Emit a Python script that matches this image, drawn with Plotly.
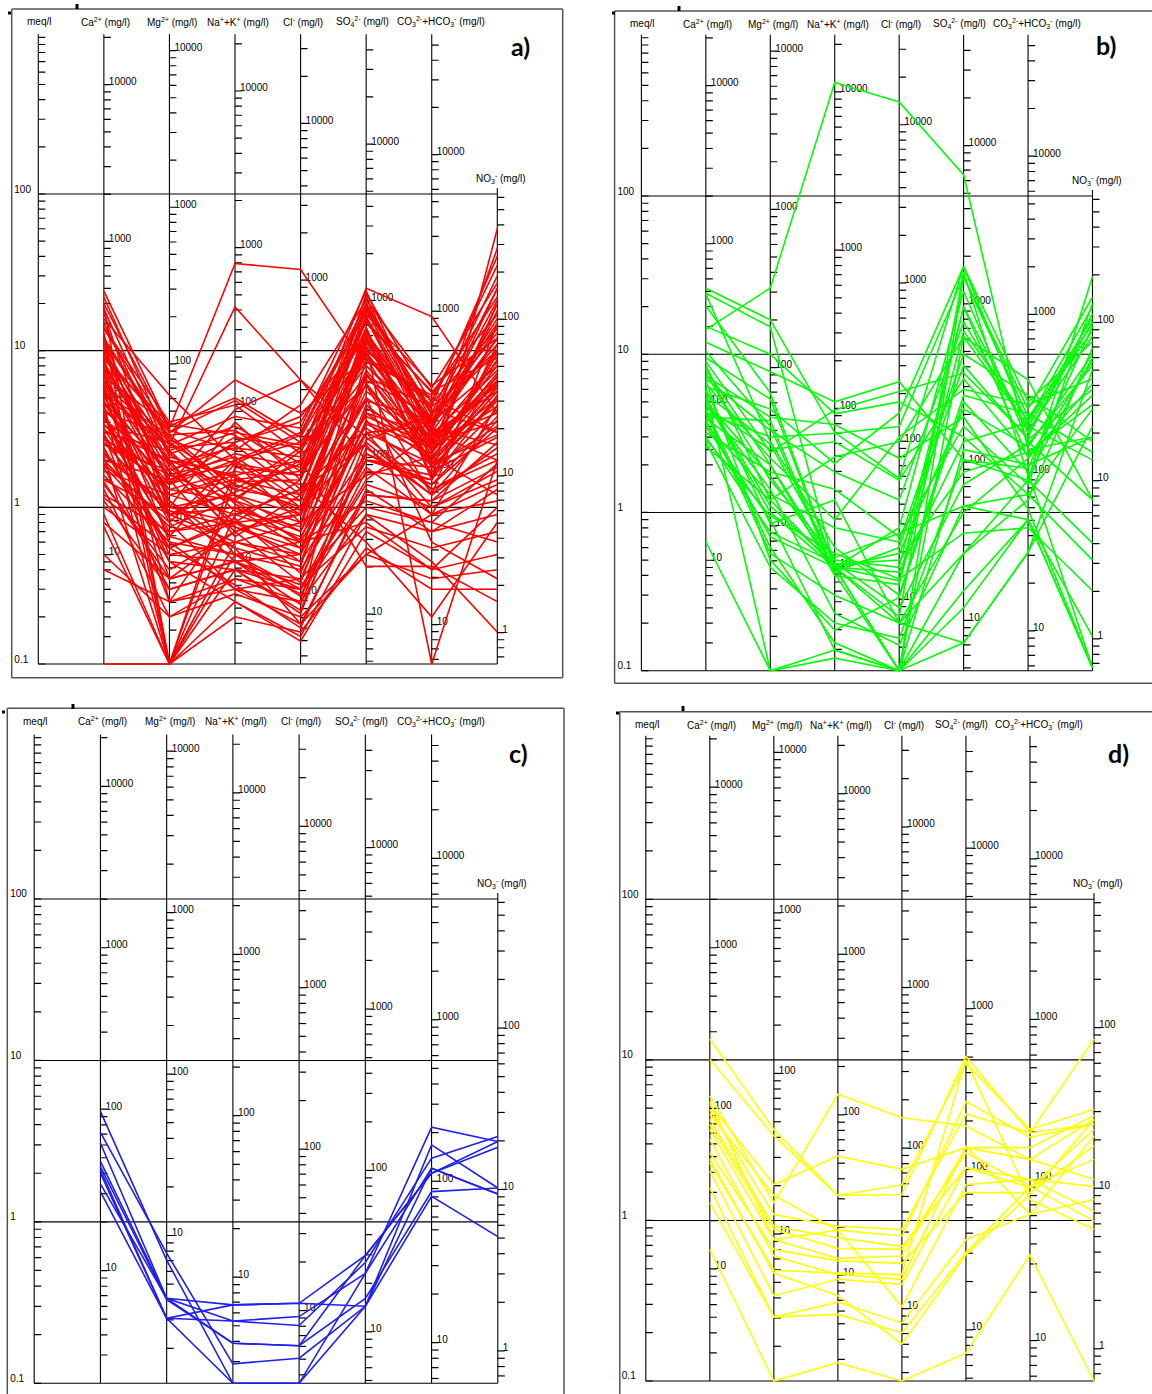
import plotly.graph_objects as go

FIG_W, FIG_H = 1152, 1394

# ---------------- axis / category definitions ----------------
CATEGORIES = ["Ca", "Mg", "Na+K", "Cl", "SO4", "CO3+HCO3", "NO3"]
AXIS_TITLES = ["meq/l", "Ca<sup>2+</sup> (mg/l)", "Mg<sup>2+</sup> (mg/l)",
               "Na<sup>+</sup>+K<sup>+</sup> (mg/l)", "Cl<sup>-</sup> (mg/l)",
               "SO<sub>4</sub><sup>2-</sup> (mg/l)",
               "CO<sub>3</sub><sup>2-</sup>+HCO<sub>3</sub><sup>-</sup> (mg/l)"]
NO3_TITLE = "NO<sub>3</sub><sup>-</sup> (mg/l)"
# mg/l per plotted meq/l unit for each ion axis (Ca, Mg, Na+K, Cl, SO4, CO3+HCO3, NO3)
EQ_WEIGHTS = [20.04, 12.15, 22.0, 35.45, 48.03, 56.0, 6.3]
ION_TICK_LABELS = [1, 10, 100, 1000, 10000]
MEQ_TICK_LABELS = [100, 10, 1, 0.1]
PANEL_LETTERS = ["a)", "b)", "c)", "d)"]

# ---------------- data: plotted meq/l values, rows = samples ----------------
# columns: Ca, Mg, Na+K, Cl, SO4, CO3+HCO3, NO3
SAMPLES_A = [
    [24.0, 3.2, 36.0, 33.0, 8.0, 3.0, 12.0],
    [22.0, 2.5, 19.0, 6.5, 2.0, 1.8, 5.0],
    [19.0, 0.1, 1.5, 1.2, 16.0, 2.5, 20.0],
    [16.0, 5.2, 2.0, 3.0, 20.0, 4.0, 30.0],
    [14.0, 3.5, 4.5, 2.2, 25.0, 16.5, 4.0],
    [13.0, 0.1, 0.6, 0.5, 12.0, 3.5, 8.0],
    [12.0, 2.8, 1.2, 0.9, 14.0, 1.5, 60.0],
    [11.0, 1.8, 0.8, 1.5, 18.0, 3.2, 2.5],
    [10.0, 2.2, 3.0, 2.5, 6.0, 1.2, 15.0],
    [9.5, 3.0, 6.5, 4.0, 9.0, 5.0, 3.0],
    [9.0, 0.25, 1.0, 0.7, 4.0, 2.0, 10.0],
    [8.5, 1.5, 2.2, 1.8, 22.0, 2.8, 6.0],
    [8.0, 0.1, 0.4, 0.35, 3.0, 1.0, 1.5],
    [7.5, 2.6, 1.4, 1.0, 10.0, 4.5, 40.0],
    [7.0, 1.2, 0.9, 1.3, 2.5, 0.9, 4.5],
    [6.8, 3.3, 5.0, 2.8, 15.0, 5.5, 9.0],
    [6.5, 0.6, 0.5, 0.3, 1.5, 3.0, 2.0],
    [6.0, 2.0, 1.6, 2.0, 7.0, 2.2, 20.0],
    [5.8, 1.0, 3.5, 1.5, 12.0, 1.6, 7.0],
    [5.5, 0.35, 0.7, 0.9, 5.0, 2.6, 3.5],
    [5.2, 2.4, 2.6, 3.5, 17.0, 6.0, 12.0],
    [5.0, 1.6, 1.1, 0.6, 0.8, 0.4, 1.0],
    [4.8, 0.8, 0.3, 0.25, 9.0, 1.9, 5.5],
    [4.5, 0.1, 1.8, 1.6, 6.5, 3.8, 25.0],
    [4.3, 1.4, 4.2, 6.5, 2.8, 1.3, 2.2],
    [4.0, 2.9, 1.3, 1.1, 11.0, 0.1, 2.0],
    [3.8, 0.5, 0.45, 0.5, 3.5, 2.4, 8.0],
    [3.6, 1.9, 2.4, 2.1, 8.0, 3.4, 14.0],
    [3.4, 1.1, 0.55, 0.18, 1.2, 1.1, 1.8],
    [3.2, 0.7, 0.8, 0.45, 4.5, 2.1, 6.5],
    [3.0, 2.3, 3.3, 1.9, 19.0, 4.2, 3.0],
    [2.9, 0.25, 0.35, 0.3, 2.0, 1.5, 11.0],
    [2.8, 1.3, 1.7, 1.4, 0.6, 0.2, 0.8],
    [2.6, 0.9, 0.6, 0.8, 5.5, 2.7, 4.0],
    [2.5, 1.7, 2.8, 2.4, 13.0, 3.6, 16.0],
    [2.4, 0.45, 0.25, 0.15, 0.9, 0.45, 0.16],
    [2.2, 1.0, 1.2, 0.7, 7.5, 2.3, 5.0],
    [2.1, 0.1, 0.9, 1.3, 3.2, 1.7, 2.8],
    [2.0, 1.5, 0.5, 0.4, 1.8, 0.9, 1.4],
    [1.9, 0.8, 2.0, 2.6, 10.0, 4.8, 35.0],
    [1.8, 0.3, 0.4, 0.22, 2.2, 1.4, 3.2],
    [1.7, 1.2, 1.5, 1.7, 6.0, 2.0, 9.5],
    [1.6, 0.6, 0.3, 0.35, 1.0, 0.8, 0.6],
    [1.5, 0.9, 1.0, 0.55, 4.0, 2.9, 7.5],
    [1.4, 0.4, 0.7, 1.0, 2.6, 1.2, 2.4],
    [1.3, 0.2, 0.28, 0.2, 0.5, 0.9, 1.1],
    [1.2, 0.7, 0.9, 0.65, 3.0, 3.3, 12.0],
    [1.1, 0.3, 0.4, 0.3, 1.4, 1.0, 1.7],
    [1.0, 0.5, 0.6, 0.45, 2.0, 1.6, 4.2],
    [0.9, 0.1, 0.25, 0.14, 0.7, 0.4, 0.5],
    [0.8, 0.35, 0.45, 0.28, 1.2, 1.1, 2.6],
    [0.5, 0.2, 0.35, 0.25, 0.9, 0.7, 0.9],
    [0.4, 0.25, 0.3, 0.18, 0.5, 0.35, 0.4],
    [0.1, 0.1, 0.5, 0.6, 3.0, 1.9, 6.0],
    [10.5, 1.4, 2.0, 1.0, 3.8, 2.5, 18.0],
    [7.8, 1.9, 0.75, 0.55, 2.2, 1.4, 3.8],
    [6.2, 2.5, 3.8, 3.2, 24.0, 3.0, 5.5],
    [4.6, 1.3, 1.1, 2.3, 8.5, 5.2, 22.0],
    [3.9, 0.65, 1.9, 0.8, 1.6, 2.1, 1.2],
    [3.1, 2.0, 0.65, 1.2, 5.0, 0.6, 0.35],
    [2.7, 1.6, 2.1, 1.1, 9.5, 2.6, 6.8],
    [2.3, 0.55, 0.85, 0.38, 3.6, 1.3, 2.0],
    [12.5, 0.9, 1.25, 1.9, 14.0, 1.8, 3.3],
    [9.8, 1.1, 0.45, 0.24, 2.7, 3.9, 13.0],
    [8.8, 3.4, 2.9, 1.3, 11.5, 2.3, 7.2],
    [5.6, 0.9, 1.45, 1.5, 16.5, 3.1, 45.0],
    [15.0, 2.1, 1.55, 0.95, 6.8, 4.4, 10.0],
    [17.5, 1.0, 0.8, 0.6, 1.1, 0.8, 1.9],
    [20.0, 3.1, 2.3, 4.5, 21.0, 5.8, 27.0],
    [2.0, 0.75, 1.15, 2.0, 0.42, 0.42, 0.25],
    [11.5, 2.7, 1.9, 1.6, 20.0, 3.6, 11.0],
    [9.2, 2.0, 1.3, 2.4, 16.0, 2.8, 8.5],
    [8.2, 1.7, 2.5, 1.2, 23.0, 4.6, 14.0],
    [7.2, 2.3, 0.95, 0.75, 13.5, 2.0, 5.8],
    [6.6, 1.5, 1.9, 2.9, 18.5, 3.9, 9.8],
    [5.9, 0.85, 0.55, 0.42, 7.2, 1.8, 4.8],
    [5.3, 2.9, 3.1, 1.7, 15.5, 5.4, 17.0],
    [4.7, 1.7, 0.7, 0.33, 4.3, 2.5, 6.2],
    [4.1, 0.45, 0.4, 0.21, 2.4, 1.2, 3.6],
    [3.7, 1.2, 1.6, 0.9, 10.5, 3.1, 25.0],
    [3.3, 2.6, 1.05, 0.62, 6.2, 1.9, 2.9],
    [2.95, 0.55, 0.32, 0.17, 1.3, 0.7, 1.3],
    [2.55, 1.4, 2.6, 3.8, 12.0, 2.4, 4.4],
    [2.15, 0.95, 0.75, 0.5, 3.4, 2.2, 8.8],
    [1.85, 0.65, 0.5, 0.27, 1.7, 1.5, 5.2],
    [1.45, 0.35, 0.45, 0.32, 0.75, 0.55, 0.7],
    [1.15, 0.55, 0.8, 0.9, 4.8, 3.6, 15.0],
    [0.75, 0.1, 0.2, 0.16, 0.55, 0.3, 0.3],
    [13.8, 3.0, 4.8, 2.6, 9.8, 2.7, 6.4],
    [18.5, 2.2, 1.1, 0.8, 12.5, 3.4, 21.0],
]

SAMPLES_B = [
    [14.3, 26.2, 521.0, 393.0, 136.0, 2.5, 3.0],
    [26.1, 16.5, 3.2, 1.64, 35.8, 3.5, 15.7],
    [24.3, 14.9, 0.45, 0.1, 31.0, 4.5, 23.0],
    [20.2, 5.7, 0.45, 0.37, 20.0, 2.2, 9.0],
    [11.9, 7.76, 5.0, 6.7, 2.15, 1.6, 31.0],
    [10.4, 3.5, 0.41, 0.1, 12.9, 6.9, 1.2],
    [8.98, 2.4, 4.45, 5.8, 7.6, 3.0, 18.0],
    [7.59, 1.6, 0.52, 0.74, 1.1, 0.9, 0.104],
    [6.24, 4.5, 2.04, 4.26, 35.8, 5.0, 12.0],
    [5.14, 1.0, 0.45, 0.2, 0.55, 1.6, 0.64],
    [4.24, 3.0, 3.17, 3.49, 30.9, 4.0, 14.0],
    [3.49, 0.9, 0.135, 0.1, 0.15, 0.56, 8.0],
    [2.61, 1.2, 2.25, 2.8, 12.9, 3.5, 2.15],
    [0.653, 0.1, 0.135, 0.1, 0.32, 0.9, 0.164],
    [8.0, 2.0, 0.45, 0.55, 4.5, 2.6, 10.0],
    [6.8, 0.5, 0.18, 0.29, 5.0, 1.8, 0.104],
    [5.6, 2.7, 0.5, 0.45, 20.0, 3.2, 16.0],
    [4.8, 1.4, 0.23, 0.145, 1.1, 1.3, 4.5],
    [4.0, 3.8, 0.42, 0.6, 8.5, 2.9, 6.0],
    [3.8, 0.7, 0.45, 0.1, 2.5, 2.0, 3.0],
    [3.2, 1.8, 1.4, 0.7, 3.5, 1.5, 21.0],
    [2.9, 0.95, 0.55, 0.38, 0.74, 0.8, 0.32],
    [9.5, 5.2, 0.45, 0.22, 33.0, 1.7, 9.5],
    [6.5, 2.2, 0.9, 3.0, 6.0, 4.8, 7.0],
    [5.3, 1.1, 0.47, 0.5, 1.8, 2.4, 4.8],
    [4.5, 0.6, 0.15, 0.1, 0.55, 1.2, 11.0],
    [7.0, 3.3, 1.8, 1.2, 16.0, 3.3, 13.0],
    [3.6, 1.3, 0.8, 0.65, 10.0, 5.5, 2.8],
    [2.8, 0.45, 0.2, 0.16, 2.15, 1.9, 15.0],
    [5.9, 0.1, 0.12, 0.1, 0.25, 0.9, 0.104],
    [8.5, 1.2, 0.45, 0.42, 2.8, 3.7, 17.0],
    [4.6, 2.5, 2.8, 1.6, 7.0, 2.3, 5.5],
    [3.0, 0.75, 0.48, 0.25, 1.5, 2.7, 8.5],
    [15.0, 10.0, 4.2, 5.0, 3.0, 1.3, 0.5],
    [24.0, 2.8, 0.6, 0.3, 5.5, 4.2, 2.4],
    [5.0, 1.7, 0.45, 0.8, 25.0, 2.8, 1.2],
    [6.0, 0.85, 1.2, 0.2, 0.15, 0.56, 3.5],
    [3.9, 2.0, 0.4, 0.35, 14.0, 3.8, 20.0],
    [7.3, 4.0, 3.6, 2.2, 4.0, 1.05, 0.104],
    [4.3, 0.55, 0.3, 0.2, 1.0, 2.2, 6.5],
]

SAMPLES_C = [
    [4.83, 0.58, 0.10, 0.10, 0.48, 3.86, 3.15],
    [3.58, 0.64, 0.132, 0.143, 0.30, 2.15, 1.49],
    [3.07, 0.336, 0.306, 0.313, 0.30, 3.0, 1.62],
    [2.37, 0.336, 0.243, 0.228, 0.56, 2.48, 3.38],
    [2.10, 0.253, 0.306, 0.313, 0.62, 2.0, 2.9],
    [2.00, 0.253, 0.243, 0.259, 0.48, 2.15, 1.49],
    [1.72, 0.336, 0.177, 0.171, 0.336, 1.54, 1.62],
    [1.54, 0.253, 0.10, 0.10, 0.30, 1.44, 0.81],
    [2.20, 0.33, 0.177, 0.171, 0.62, 2.0, 3.15],
]

SAMPLES_D = [
    [13.5, 3.69, 1.43, 1.45, 10.5, 3.52, 13.5],
    [10.1, 3.36, 1.43, 1.67, 9.5, 3.69, 4.9],
    [5.96, 1.29, 6.1, 4.36, 3.87, 2.40, 4.26],
    [5.28, 1.67, 2.52, 2.08, 2.84, 2.84, 4.5],
    [4.92, 1.09, 0.92, 0.88, 4.6, 3.52, 3.97],
    [4.26, 0.92, 0.78, 0.69, 2.13, 1.80, 1.14],
    [3.97, 0.88, 0.67, 0.66, 2.64, 1.63, 0.99],
    [3.69, 0.76, 0.58, 0.60, 2.84, 2.40, 1.80],
    [2.64, 0.66, 0.56, 0.54, 1.49, 1.49, 2.91],
    [2.29, 0.49, 0.47, 0.46, 10.0, 1.35, 0.88],
    [2.03, 0.34, 0.43, 0.40, 2.13, 1.60, 3.69],
    [1.60, 0.25, 0.31, 0.23, 0.76, 1.09, 3.36],
    [1.29, 0.25, 0.26, 0.20, 0.63, 1.63, 2.4],
    [0.66, 0.10, 0.13, 0.10, 0.149, 0.61, 0.10],
    [4.6, 1.43, 0.87, 0.80, 5.5, 3.3, 3.97],
    [3.2, 0.60, 0.46, 0.43, 2.9, 1.09, 1.35],
    [2.4, 0.47, 0.34, 0.17, 0.61, 1.45, 4.26],
    [5.5, 0.76, 0.87, 0.29, 1.67, 1.80, 1.63],
]

SAMPLE_SETS = [SAMPLES_A, SAMPLES_B, SAMPLES_C, SAMPLES_D]

# ---------------- panel geometry (pixels of the 1152x1394 page) ----------------
PANELS = [
    dict(L=11.7, R=562.7, T=9.0, B=677.7, x0=38.3, x7=497.3, y100=194.0, yb=664.0,
         color="#ff0000", lw=1.6, edges="ltrb", letter=(520, 46), dot=(10, 13), mark=(77, 4)),
    dict(L=614.6, R=1152.0, T=11.0, B=683.3, x0=641.4, x7=1092.5, y100=196.0, yb=670.7,
         color="#00ff00", lw=1.6, edges="ltb", letter=(1106, 45), dot=(614, 13), mark=(679, 6)),
    dict(L=7.3, R=564.0, T=708.3, B=1394.0, x0=34.2, x7=497.8, y100=899.0, yb=1383.3,
         color="#1f1ff0", lw=1.6, edges="ltr", letter=(518, 753), dot=(4, 712), mark=(73, 704)),
    dict(L=619.8, R=1152.0, T=711.7, B=1394.0, x0=645.8, x7=1094.0, y100=899.3, yb=1381.0,
         color="#ffff00", lw=1.6, edges="lt", letter=(1118, 753), dot=(618, 713), mark=(683, 706)),
]

TITLE_DX = [1, 2, 3, 3, 2, -4, 9]
FONT = "Liberation Sans, Arial, sans-serif"


def px(xp):
    return xp / FIG_W


def py(yp):
    return 1 - yp / FIG_H


fig = go.Figure()
layout_axes = {}
annotations = []
shapes = []

for i, (P, samples) in enumerate(zip(PANELS, SAMPLE_SETS)):
    n = i + 1
    xa = "x" if n == 1 else f"x{n}"
    ya = "y" if n == 1 else f"y{n}"
    unit = (P["x7"] - P["x0"]) / 7.0
    dec = (P["yb"] - P["y100"]) / 3.0
    xr = [-(P["x0"] - P["L"]) / unit, (P["R"] - P["x0"]) / unit]
    yr = [-1 - (P["B"] - P["yb"]) / dec, -1 + (P["yb"] - P["T"]) / dec]
    key = "" if n == 1 else str(n)
    layout_axes[f"xaxis{key}"] = dict(domain=[px(P["L"]), min(1.0, px(P["R"]))], range=xr,
                                      visible=False, fixedrange=True, anchor=ya)
    layout_axes[f"yaxis{key}"] = dict(domain=[max(0.0, py(P["B"])), py(P["T"])], range=yr,
                                      type="log", visible=False, fixedrange=True, anchor=xa)

    def up(v, pix, dec=dec):  # shift a value up by pix pixels
        return v * 10 ** (pix / dec)

    # axis lines + horizontal reference lines
    lx, ly = [], []
    for k in range(7):
        lx += [k, k, None]
        ly += [0.1, up(1000, 3), None]
    lx += [7, 7, None]
    ly += [0.1, up(100, 6), None]
    for v in MEQ_TICK_LABELS:
        lx += [0, 7, None]
        ly += [v, v, None]
    fig.add_trace(go.Scatter(x=lx, y=ly, mode="lines", line=dict(color="black", width=1.1),
                             xaxis=xa, yaxis=ya, hoverinfo="skip", showlegend=False))

    # tick marks
    tl = 7.0 / unit
    tx, ty = [], []
    for e in range(-1, 3):
        for m in range(1, 10):
            v = m * 10 ** e
            tx += [0, tl, None]
            ty += [v, v, None]
    tx += [0, tl, None]
    ty += [1000, 1000, None]
    lab_x, lab_y, lab_t = [], [], []
    for k in range(1, 8):
        eq = EQ_WEIGHTS[k - 1]
        top = 1000 * 1.001 if k < 7 else up(100, 6)
        for e in range(-1, 6):
            for m in range(1, 10):
                v = m * 10 ** e / eq
                if 0.0999 <= v <= top:
                    tx += [k, k + tl, None]
                    ty += [v, v, None]
        for lv in ION_TICK_LABELS:
            v = lv / eq
            if 0.0999 <= v <= top:
                lab_x.append(k + 5.0 / unit)
                lab_y.append(up(v, 2))
                lab_t.append(str(lv))
    for v in MEQ_TICK_LABELS:
        lab_x.append(-24.0 / unit)
        lab_y.append(up(v, 4))
        lab_t.append(f"{v:g}")
    fig.add_trace(go.Scatter(x=tx, y=ty, mode="lines", line=dict(color="black", width=1.2),
                             xaxis=xa, yaxis=ya, hoverinfo="skip", showlegend=False))
    fig.add_trace(go.Scatter(x=lab_x, y=lab_y, mode="text", text=lab_t, textposition="middle right",
                             textfont=dict(size=10, color="black", family=FONT),
                             xaxis=xa, yaxis=ya, hoverinfo="skip", showlegend=False,
                             cliponaxis=False))

    # sample lines
    sx, sy = [], []
    for row in samples:
        sx += list(range(1, 8)) + [None]
        sy += list(row) + [None]
    fig.add_trace(go.Scatter(x=sx, y=sy, mode="lines", line=dict(color=P["color"], width=P["lw"]),
                             xaxis=xa, yaxis=ya, hoverinfo="skip", showlegend=False))

    # axis titles
    for k, t in enumerate(AXIS_TITLES):
        annotations.append(dict(x=k + TITLE_DX[k] / unit, y=py(P["T"] + 13), xref=xa, yref="paper",
                                text=t, showarrow=False, xanchor="center", yanchor="middle",
                                font=dict(size=10, color="black", family=FONT)))
    annotations.append(dict(x=7 + 4 / unit, y=py(P["y100"] - 16), xref=xa, yref="paper",
                            text=NO3_TITLE, showarrow=False, xanchor="center", yanchor="middle",
                            font=dict(size=10, color="black", family=FONT)))
    # panel letter
    annotations.append(dict(x=px(P["letter"][0]), y=py(P["letter"][1]), xref="paper", yref="paper",
                            text=f"<b>{PANEL_LETTERS[i]}</b>", showarrow=False,
                            xanchor="center", yanchor="middle",
                            font=dict(size=25, color="black", family="Lato, Open Sans, sans-serif")))

    # frame
    fl = dict(color="#555555", width=1.5)
    L, R, T, B = P["L"], P["R"], P["T"], P["B"]
    if "l" in P["edges"]:
        shapes.append(dict(type="line", xref="paper", yref="paper", x0=px(L), x1=px(L),
                           y0=py(T), y1=py(min(B, FIG_H)), line=fl))
    if "t" in P["edges"]:
        shapes.append(dict(type="line", xref="paper", yref="paper", x0=px(L), x1=px(R),
                           y0=py(T), y1=py(T), line=fl))
    if "r" in P["edges"]:
        shapes.append(dict(type="line", xref="paper", yref="paper", x0=px(R), x1=px(R),
                           y0=py(T), y1=py(min(B, FIG_H)), line=fl))
    if "b" in P["edges"]:
        shapes.append(dict(type="line", xref="paper", yref="paper", x0=px(L), x1=px(R),
                           y0=py(B), y1=py(B), line=fl))
    # small corner marks
    dx, dy = P["dot"]
    shapes.append(dict(type="rect", xref="paper", yref="paper", x0=px(dx - 2), x1=px(dx + 1),
                       y0=py(dy + 1.5), y1=py(dy - 1.5), fillcolor="black", line=dict(width=0)))
    mx, my = P["mark"]
    shapes.append(dict(type="rect", xref="paper", yref="paper", x0=px(mx - 1.5), x1=px(mx + 1.5),
                       y0=py(my + 5), y1=py(my), fillcolor="black", line=dict(width=0)))

fig.update_layout(width=FIG_W, height=FIG_H, autosize=False,
                  margin=dict(l=0, r=0, t=0, b=0),
                  paper_bgcolor="white", plot_bgcolor="rgba(0,0,0,0)",
                  showlegend=False, annotations=annotations, shapes=shapes, **layout_axes)

fig.write_html("out.html", config={"displayModeBar": False, "staticPlot": True},
               post_script="document.body.style.margin='0';")
